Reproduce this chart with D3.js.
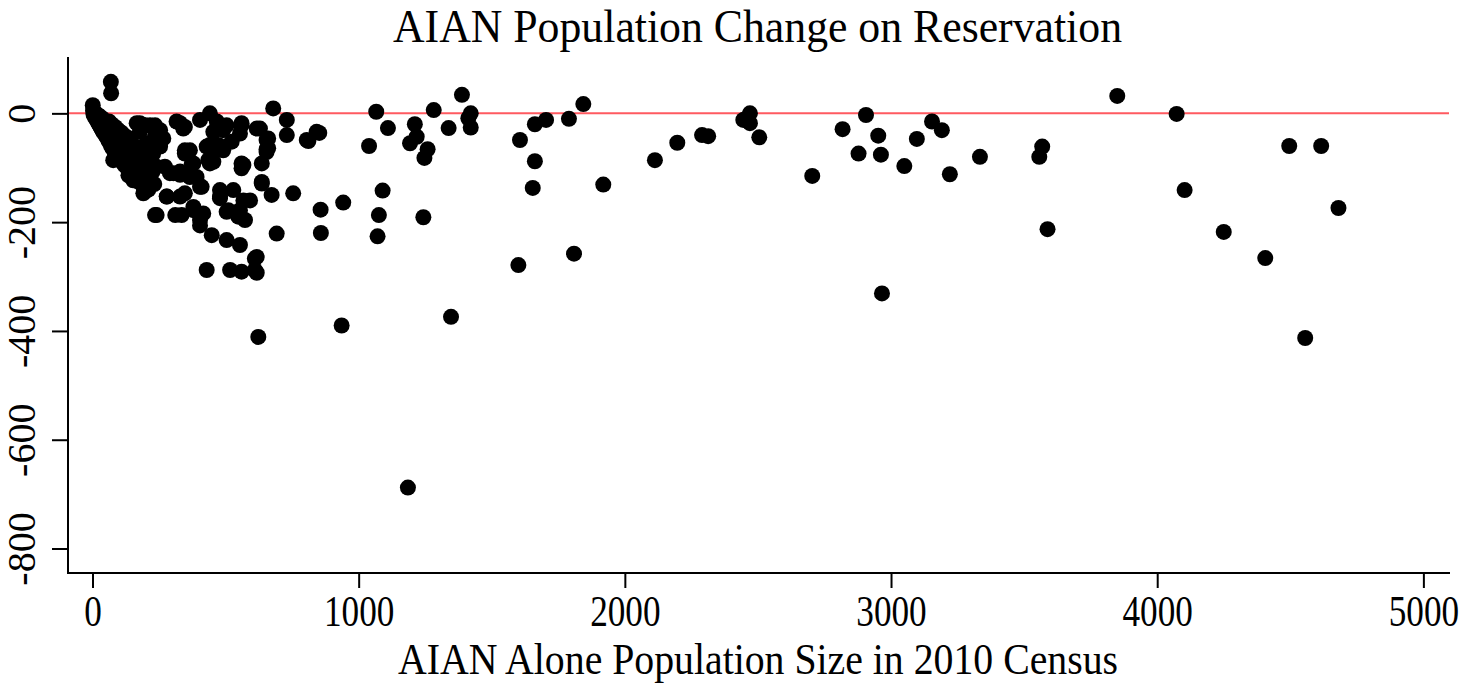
<!DOCTYPE html>
<html>
<head>
<meta charset="utf-8">
<script src="https://cdn.jsdelivr.net/npm/d3@7"></script>
<style>
  html, body { margin: 0; padding: 0; background: #fff; }
  svg { display: block; }
  text { font-family: "Liberation Serif", "Times New Roman", serif; fill: #000; }
</style>
</head>
<body>
<svg id="chart" width="1469" height="687"></svg>
<script>
// Tick values
const xTicks = [0, 1000, 2000, 3000, 4000, 5000];
const yTicks = [0, -200, -400, -600, -800];

// [AIAN alone population 2010, change in AIAN population] per reservation
// Small reservations (dense wedge near the origin)
const smallReservations = [
  [2,5],[4,-2],[6,3],[8,-4],[10,-8],[12,0],[14,-10],[16,-6],[18,-14],[20,-3],
  [22,-18],[24,-10],[26,-21],[28,-6],[30,-25],[32,-15],[34,-28],[36,-9],[38,-32],[40,-20],
  [42,-35],[44,-13],[46,-27],[48,-40],[50,-18],[52,-33],[55,-45],[57,-24],[60,-50],[62,-15],
  [64,-38],[66,-55],[68,-28],[70,-60],[72,-20],[74,-45],[76,-65],[78,-33],[80,-52],[83,-70],
  [85,-25],[88,-40],[90,-75],[92,-58],[95,-30],[98,-80],[100,-47],[103,-65],[106,-85],[108,-35],
  [110,-55],[113,-90],[116,-72],[118,-40],[120,-95],[123,-60],[126,-82],[130,-100],[133,-45],[136,-68],
  [140,-105],[143,-88],[146,-55],[150,-112],[154,-75],[158,-95],[162,-118],[166,-62],[170,-125],[175,-85],
  [180,-105],[185,-130],[190,-70],[195,-138],[200,-115],[205,-92],[210,-140],[218,-125],[225,-108],[232,-130],
  [1,15],[69,58],[70,37],[78,-86],[135,-114],[153,-123],[191,-147],[191,-98],[241,-98],[228,-74],
  [204,-55],[254,-55],[178,-34],[166,-18],[197,-22],[235,-22],[191,-22],[235,-26],[266,-46],[147,-114],
  [197,-144],[241,-187],[235,-187],[279,-153],[216,-129],[254,-61],[254,-31],[216,-22],[178,-18],[235,-43],
  [272,-98],[304,-110],[291,-110]
];

// Mid-sized reservations (roughly 300 to 1000)
const midReservations = [
  [316,-15],[347,-25],[329,-18],[341,-28],[347,-68],[347,-74],[404,-135],[379,-92],[391,-117],[335,-187],
  [404,-196],[404,-206],[448,-224],[504,-233],[554,-242],[617,-264],[610,-267],[479,-153],[529,-141],[504,-181],
  [548,-190],[573,-196],[592,-160],[560,-92],[560,-101],[636,-92],[636,-129],[673,-150],[754,-147],[692,-221],
  [429,-61],[454,-89],[404,-12],[441,0],[467,-15],[491,-31],[454,-34],[523,-52],[560,-22],[629,-28],
  [660,-46],[660,-64],[679,9],[730,-12],[730,-40],[805,-49],[842,-34],[441,-58],[473,-58],[567,-95],
  [435,-86],[329,-107],[366,-117],[410,-135],[479,-141],[329,-153],[379,-172],[567,-160],[453,-68],[491,-68],
  [654,-71],[373,-92],[441,-92],[329,-113],[366,-113],[347,-147],[636,-126],[479,-156],[510,-178],[554,-178],
  [379,-178],[416,-184],[429,-288],[517,-288],[560,-291],[610,-288],[617,-293],[623,-411],[654,-49],[654,-66],
  [554,-37],[504,-22],[560,-18],[279,-153],[311,-187],[366,-68],[617,-28]
];

// Larger reservations (above 800)
const largeReservations = [
  [811,-51],[852,-36],[857,-177],[858,-220],[942,-164],[936,-390],[1066,3],[1039,-60],[1110,-27],[1090,-142],
  [1076,-187],[1071,-226],[1211,-20],[1218,-43],[1193,-55],[1259,-66],[1247,-82],[1243,-191],[1282,6],[1338,-27],
  [1388,34],[1421,0],[1412,-9],[1421,-26],[1347,-374],[1185,-688],[1606,-49],[1662,-20],[1704,-12],[1662,-88],
  [1654,-137],[1600,-279],[1790,-10],[1844,17],[1919,-131],[1809,-258],[2113,-86],[2197,-54],[2290,-40],[2313,-42],
  [2445,-12],[2470,0],[2470,-18],[2458,-9],[2505,-44],[2704,-115],[2818,-29],[2906,-3],[2878,-74],[2952,-41],
  [2962,-76],[2966,-331],[3050,-97],[3097,-47],[3154,-15],[3191,-31],[3221,-112],[3334,-80],[3568,-61],[3557,-80],
  [3588,-213],[3850,32],[4073,-1],[4103,-141],[4496,-60],[4616,-60],[4681,-174],[4250,-218],[4406,-266],[4556,-413]
];

const points = [...smallReservations, ...midReservations, ...largeReservations];

const svg = d3.select("#chart");
const plot = { left: 68, right: 1450, top: 57, bottom: 573 };

const x = d3.scaleLinear().domain([-92, 5100]).range([plot.left, plot.right]);
const y = d3.scaleLinear().domain([103.6, -845]).range([plot.top, plot.bottom]);

// Plain hyphen-minus for negative tick labels
const plainNumber = d => String(d);

// Reference line at zero change
svg.append("line")
  .attr("x1", plot.left).attr("x2", plot.right - 1)
  .attr("y1", y(0)).attr("y2", y(0))
  .attr("stroke", "#ff5a60").attr("stroke-width", 2);

// Points
svg.append("g").selectAll("circle")
  .data(points)
  .join("circle")
  .attr("cx", d => x(d[0]))
  .attr("cy", d => y(d[1]))
  .attr("r", 8)
  .attr("fill", "#000");

// L-shaped frame
svg.append("path")
  .attr("d", `M${plot.left},${plot.top}V${plot.bottom}H${plot.right}`)
  .attr("fill", "none").attr("stroke", "#000").attr("stroke-width", 2);

// X axis
const xAxis = svg.append("g")
  .attr("transform", `translate(0,${plot.bottom})`)
  .call(d3.axisBottom(x).tickValues(xTicks).tickFormat(plainNumber).tickSize(15).tickPadding(7));
xAxis.select(".domain").remove();
xAxis.selectAll("line").attr("stroke", "#000").attr("stroke-width", 2);
xAxis.selectAll("text")
  .attr("font-size", 44)
  .attr("dy", "0.71em")
  .attr("transform", "scale(0.8,1)");

// Y axis with rotated labels
const yAxis = svg.append("g")
  .attr("transform", `translate(${plot.left},0)`)
  .call(d3.axisLeft(y).tickValues(yTicks).tickFormat(plainNumber).tickSize(16));
yAxis.select(".domain").remove();
yAxis.selectAll("line").attr("stroke", "#000").attr("stroke-width", 2);
yAxis.selectAll("text")
  .attr("font-size", 40)
  .attr("x", null).attr("dy", null)
  .attr("text-anchor", "middle")
  .attr("transform", "translate(-33,0) rotate(-90)");

// Title
svg.append("text")
  .attr("x", 757.5).attr("y", 42)
  .attr("text-anchor", "middle")
  .attr("font-size", 46)
  .attr("textLength", 729).attr("lengthAdjust", "spacingAndGlyphs")
  .text("AIAN Population Change on Reservation");

// X axis title
svg.append("text")
  .attr("x", 758).attr("y", 674)
  .attr("text-anchor", "middle")
  .attr("font-size", 45)
  .attr("textLength", 720).attr("lengthAdjust", "spacingAndGlyphs")
  .text("AIAN Alone Population Size in 2010 Census");
</script>
</body>
</html>
